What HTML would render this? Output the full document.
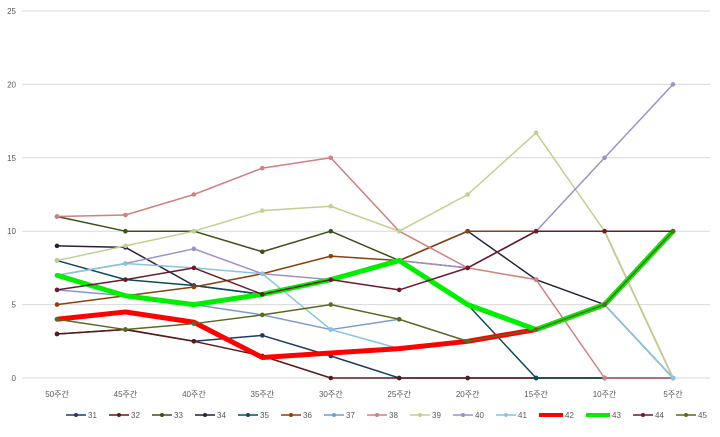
<!DOCTYPE html>
<html><head><meta charset="utf-8"><style>
body{margin:0;background:#fff;font-family:"Liberation Sans","Noto Sans CJK KR",sans-serif;}
</style></head><body>
<svg id="chart" width="720" height="432" xmlns="http://www.w3.org/2000/svg"></svg>
<script>
const categories=["50주간","45주간","40주간","35주간","30주간","25주간","20주간","15주간","10주간","5주간"];
const yTicks=[0,5,10,15,20,25];
const seriesNames=["31","32","33","34","35","36","37","38","39","40","41","42","43","44","45"];
const s31=[3,3.3,2.5,2.9,1.5,0,0,0,0,0];
const s32=[3,3.3,2.5,1.5,0,0,0,0,0,0];
const s33=[11,10,10,8.6,10,8,7.5,10,10,10];
const s34=[9,8.9,6.3,5.7,6.7,8,10,6.7,5,0];
const s35=[8,6.7,6.3,5.7,6.7,8,5,0,0,0];
const s36=[5,5.6,6.2,7.1,8.3,8,10,10,10,0];
const s37=[6,5.6,5,4.3,3.3,4,2.5,3.3,5,0];
const s38=[11,11.1,12.5,14.3,15,10,7.5,6.7,0,0];
const s39=[8,9,10,11.4,11.7,10,12.5,16.7,10,0];
const s40=[7,7.8,8.8,7.1,6.7,8,7.5,10,15,20];
const s41=[7,7.8,7.5,7.1,3.3,2,2.5,3.3,5,0];
const s42=[4,4.5,3.8,1.4,1.7,2,2.5,3.3,5,10];
const s43=[7,5.6,5,5.7,6.7,8,5,3.3,5,10];
const s44=[6,6.7,7.5,5.7,6.7,6,7.5,10,10,10];
const s45=[4,3.3,3.7,4.3,5,4,2.5,3.3,5,10];
const allSeries=[s31,s32,s33,s34,s35,s36,s37,s38,s39,s40,s41,s42,s43,s44,s45];
const colors=["#1f3864","#5b1a1a","#3d4f1a","#2a1f3d","#0f4a5a","#8b4010","#7a9ccc","#d08080","#c0d090","#a090c8","#88c4dc","#ff0000","#00ee00","#6a1a2a","#5a6a20"];
const widths=[1.5,1.5,1.5,1.5,1.5,1.5,1.5,1.5,1.5,1.5,1.5,5,5,1.5,1.5];
const NS="http://www.w3.org/2000/svg";
const svg=document.getElementById('chart');
const X0=57,X1=673,Y0=378,Y1=11;
const xs=i=>X0+i*(X1-X0)/(categories.length-1);
const ys=v=>Y0-(v/25)*(Y0-Y1);
function mk(t,a){const e=document.createElementNS(NS,t);for(const k in a)e.setAttribute(k,a[k]);svg.appendChild(e);return e;}
yTicks.forEach(t=>{
 const g=mk('line',{x1:22,x2:710,y1:ys(t),y2:ys(t),stroke:'#d9d9d9','stroke-width':1});
 
 
 const l=mk('text',{x:16,y:ys(t)+3,'text-anchor':'end','font-size':8,fill:'#595959'});
 l.textContent=t;
 
 
});
categories.forEach((c,i)=>{
 const l=mk('text',{x:xs(i),y:397,'text-anchor':'middle','font-size':8,fill:'#595959'});
 l.textContent=c;
 
 
});
allSeries.forEach((d,si)=>{
 const pts=d.map((v,i)=>xs(i)+','+ys(v)).join(' ');
 const p=mk('polyline',{points:pts,fill:'none',stroke:colors[si],'stroke-width':widths[si],'stroke-linejoin':'round'});
 
 
 d.forEach((v,i)=>{
  const c=mk('circle',{cx:xs(i),cy:ys(v),r:2.3,fill:colors[si]});
  
  
 });
});
let lx=66;
seriesNames.forEach((n,si)=>{
 const w=(si===11||si===12)?24:20;
 const ln=mk('line',{x1:lx,x2:lx+w,y1:415,y2:415,stroke:colors[si],'stroke-width':widths[si]>2?4:1.5});
 
 
 const c=mk('circle',{cx:lx+w/2,cy:415,r:2,fill:colors[si]});
 
 
 const t=mk('text',{x:lx+w+2,y:418,'font-size':8,fill:'#595959'});
 t.textContent=n;
 
 
 lx+=w+23;
});
</script>
</body></html>
